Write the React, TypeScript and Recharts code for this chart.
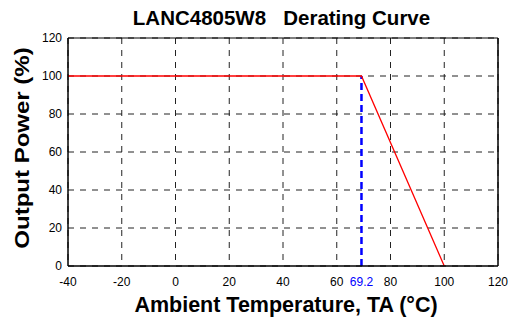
import React from 'react';
import { LineChart, Line, CartesianGrid, XAxis, YAxis, ReferenceLine } from 'recharts';

// derating curve (°C vs %)
const curveTemp = [-40, 69.2, 100];
const curvePower = [100, 100, 0];

// knee marker (blue dashed)
const kneeTemp = [69.2, 69.2];
const kneePower = [0, 100];

const xTicks = [-40, -20, 0, 20, 40, 60, 69.2, 80, 100, 120];
const xGrid = [-40, -20, 0, 20, 40, 60, 80, 100, 120];
const yTicks = [0, 20, 40, 60, 80, 100, 120];

const curveData = curveTemp.map((t, i) => ({ t, p: curvePower[i] }));
const kneeData = kneeTemp.map((t, i) => ({ t, p: kneePower[i] }));

const font = '"Liberation Sans", Arial, sans-serif';

const XTick = (props: any) => {
    const { x, y, payload } = props;
    const isKnee = payload.value === 69.2;
    return (
        <text x={x} y={y} dy="0.71em" textAnchor="middle" fontSize={12} fontFamily={font} fill={isKnee ? '#0000ff' : '#000'}>
            {payload.value}
        </text>
    );
};

const App: React.FC = () => {
    return (
        <div style={{ position: 'absolute', left: 0, top: 0, width: 509, height: 320, background: '#fff', fontFamily: font }}>
            <div
                style={{
                    position: 'absolute',
                    left: 181.5,
                    width: 200,
                    top: 8,
                    fontSize: 20.5,
                    lineHeight: '20.5px',
                    fontWeight: 'bold',
                    whiteSpace: 'pre',
                    display: 'flex',
                    justifyContent: 'center',
                }}
            >
                {'LANC4805W8   Derating Curve'}
            </div>
            <div
                style={{
                    position: 'absolute',
                    left: 186,
                    width: 200,
                    top: 295,
                    fontSize: 21.5,
                    lineHeight: '21.5px',
                    fontWeight: 'bold',
                    whiteSpace: 'nowrap',
                    display: 'flex',
                    justifyContent: 'center',
                }}
            >
                Ambient Temperature, TA (°C)
            </div>
            <div
                style={{
                    position: 'absolute',
                    left: 22,
                    top: 148,
                    transform: 'translate(-50%, -50%) rotate(-90deg) scaleX(1.2)',
                    fontSize: 20,
                    lineHeight: '20px',
                    fontWeight: 'bold',
                    whiteSpace: 'nowrap',
                }}
            >
                Output Power (%)
            </div>
            <LineChart
                width={509}
                height={320}
                style={{ position: 'absolute', left: 0, top: 0 }}
                margin={{ top: 38, right: 11, left: 38, bottom: 30 }}
            >
                <CartesianGrid
                    stroke="#222"
                    strokeDasharray="6 6"
                    verticalValues={xGrid}
                    horizontalValues={yTicks}
                />
                <XAxis
                    type="number"
                    dataKey="t"
                    domain={[-40, 120]}
                    ticks={xTicks}
                    interval={0}
                    height={24}
                    tickLine={false}
                    tickSize={6}
                    tickMargin={5}
                    tick={<XTick />}
                    axisLine={{ stroke: '#000', strokeWidth: 1.5 }}
                    allowDuplicatedCategory={false}
                />
                <YAxis
                    type="number"
                    domain={[0, 120]}
                    ticks={yTicks}
                    width={30}
                    tickLine={false}
                    tickSize={4}
                    tickMargin={2}
                    tick={{ fontSize: 12, fill: '#000', fontFamily: font }}
                    axisLine={{ stroke: '#000', strokeWidth: 1.5 }}
                />
                <ReferenceLine y={120} stroke="#000" strokeWidth={1} />
                <ReferenceLine x={120} stroke="#000" strokeWidth={1.5} />
                <Line
                    data={kneeData}
                    dataKey="p"
                    stroke="#0000ff"
                    strokeWidth={2.5}
                    strokeDasharray="7 4"
                    dot={false}
                    isAnimationActive={false}
                />
                <Line
                    data={curveData}
                    dataKey="p"
                    stroke="#ff0000"
                    strokeWidth={1.3}
                    dot={false}
                    isAnimationActive={false}
                />
            </LineChart>
        </div>
    );
};

export default App;
